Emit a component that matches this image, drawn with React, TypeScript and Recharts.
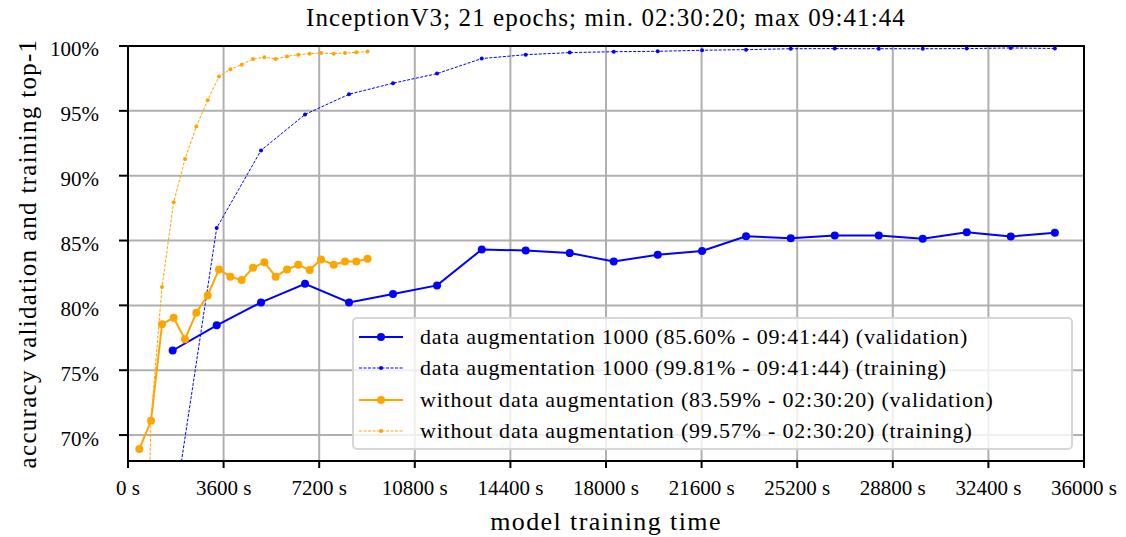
import React from 'react';
import { LineChart, Line, XAxis, YAxis, CartesianGrid, Legend, ReferenceArea } from 'recharts';

// epoch end times (s) and accuracies (%)
const timeAug = [1683, 3340, 5009, 6666, 8323, 9980, 11637, 13320, 14977, 16634, 18291, 19948, 21617, 23274, 24957, 26614, 28271, 29928, 31585, 33242, 34904];
const valAug = [76.52, 78.46, 80.23, 81.67, 80.23, 80.87, 81.54, 84.31, 84.23, 84.03, 83.38, 83.9, 84.2, 85.33, 85.18, 85.38, 85.38, 85.13, 85.64, 85.31, 85.6];
const trainAug = [63.5, 85.97, 91.95, 94.72, 96.28, 97.13, 97.87, 99.03, 99.33, 99.49, 99.56, 99.59, 99.67, 99.72, 99.79, 99.8, 99.79, 99.79, 99.8, 99.85, 99.81];

const timeNoAug = [426, 866, 1280, 1720, 2147, 2573, 3000, 3427, 3853, 4281, 4708, 5134, 5561, 5988, 6414, 6842, 7268, 7747, 8172, 8598, 9020];
const valNoAug = [68.92, 71.1, 78.54, 79.05, 77.38, 79.44, 80.77, 82.77, 82.21, 81.95, 82.9, 83.33, 82.21, 82.77, 83.13, 82.72, 83.54, 83.13, 83.38, 83.38, 83.59];
const trainNoAug = [33.4, 71.2, 81.41, 87.95, 91.28, 93.79, 95.82, 97.64, 98.21, 98.56, 99.0, 99.13, 99.0, 99.2, 99.33, 99.41, 99.46, 99.41, 99.46, 99.51, 99.57];

const xTicks = [0, 3600, 7200, 10800, 14400, 18000, 21600, 25200, 28800, 32400, 36000];
const yTicks = [70, 75, 80, 85, 90, 95, 100];

const seriesNames = [
  'data augmentation 1000 (85.60% - 09:41:44) (validation)',
  'data augmentation 1000 (99.81% - 09:41:44) (training)',
  'without data augmentation (83.59% - 02:30:20) (validation)',
  'without data augmentation (99.57% - 02:30:20) (training)',
];

const BLUE = '#0000ff';
const ORANGE = '#ffa500';
const FONT = '"Liberation Serif", "DejaVu Serif", serif';

const toRows = (t: number[], v: number[]) => t.map((x, i) => ({ t: x, acc: v[i] }));

const series = [
  { name: seriesNames[0], data: toRows(timeAug, valAug), color: BLUE, training: false },
  { name: seriesNames[1], data: toRows(timeAug, trainAug), color: BLUE, training: true },
  { name: seriesNames[2], data: toRows(timeNoAug, valNoAug), color: ORANGE, training: false },
  { name: seriesNames[3], data: toRows(timeNoAug, trainNoAug), color: ORANGE, training: true },
];

const YTitle = (props: any) => {
  const vb = props.viewBox || { y: 46, height: 415 };
  const cx = 27;
  const cy = vb.y + vb.height / 2;
  return (
    <text x={cx} y={cy} transform={`rotate(-90 ${cx} ${cy})`} textAnchor="middle" dominantBaseline="central" fontSize={25} letterSpacing={1.3} fill="#000">
      accuracy validation and training top-1
    </text>
  );
};

const XTitle = (props: any) => {
  const vb = props.viewBox || { x: 128, width: 956 };
  return (
    <text x={vb.x + vb.width / 2} y={521} textAnchor="middle" dominantBaseline="central" fontSize={26} letterSpacing={1.4} fill="#000">
      model training time
    </text>
  );
};

const LegendBox = () => (
  <div
    style={{
      width: 717,
      height: 129,
      border: '2px solid #d6d6d6',
      borderRadius: 5,
      background: 'rgba(255,255,255,0.8)',
      fontFamily: FONT,
      fontSize: 22,
      letterSpacing: 0.8,
      boxSizing: 'content-box',
    }}
  >
    {series.map((s, i) => (
      <div key={s.name} style={{ position: 'relative', height: 31.5, marginTop: i === 0 ? 2 : 0, display: 'flex', alignItems: 'center' }}>
        <svg width={60} height={20} style={{ flex: 'none' }}>
          <line x1={5} x2={49} y1={10} y2={10} stroke={s.color} strokeWidth={s.training ? 1 : 2} strokeDasharray={s.training ? '3 1.5' : undefined} />
          <circle cx={27} cy={10} r={s.training ? 2 : 4} fill={s.color} />
        </svg>
        <span style={{ marginLeft: 6, color: '#000', whiteSpace: 'nowrap' }}>{s.name}</span>
      </div>
    ))}
  </div>
);

export default function App() {
  return (
    <div style={{ position: 'absolute', left: 0, top: 0, width: 1126, height: 537, background: '#fff', fontFamily: FONT }}>
      <div style={{ position: 'absolute', left: 128, top: 4, width: 956, textAlign: 'center', fontSize: 25, letterSpacing: 1.1, lineHeight: '28px', color: '#000', whiteSpace: 'nowrap' }}>
        InceptionV3; 21 epochs; min. 02:30:20; max 09:41:44
      </div>
      <LineChart width={1126} height={537} margin={{ top: 46, right: 42, left: 0, bottom: 16 }}>
        <CartesianGrid stroke="#b0b0b0" strokeWidth={2} />
        <XAxis
          type="number"
          dataKey="t"
          domain={[0, 36000]}
          ticks={xTicks}
          allowDataOverflow
          height={60}
          tickFormatter={(v: number) => `${v} s`}
          tick={{ fill: '#000', fontSize: 21 }}
          tickSize={7}
          tickMargin={12}
          axisLine={{ stroke: '#000', strokeWidth: 2 }}
          tickLine={{ stroke: '#000', strokeWidth: 2 }}
          label={<XTitle />}
        />
        <YAxis
          type="number"
          dataKey="acc"
          domain={[68, 100]}
          ticks={yTicks}
          allowDataOverflow
          width={128}
          tickFormatter={(v: number) => `${v}%`}
          tick={{ fill: '#000', fontSize: 21, dy: 3 }}
          tickSize={9}
          tickMargin={20}
          axisLine={{ stroke: '#000', strokeWidth: 2 }}
          tickLine={{ stroke: '#000', strokeWidth: 2 }}
          label={<YTitle />}
        />
        <ReferenceArea x1={0} x2={36000} y1={68} y2={100} fill="none" stroke="#000" strokeWidth={2} ifOverflow="visible" />
        {series.map((s) => (
          <Line
            key={s.name}
            data={s.data}
            dataKey="acc"
            name={s.name}
            type="linear"
            stroke={s.color}
            strokeWidth={s.training ? 1 : 2}
            strokeDasharray={s.training ? '3 1.5' : undefined}
            dot={{ r: s.training ? 2 : 4, fill: s.color, stroke: s.color, strokeWidth: 0 }}
            activeDot={false}
            isAnimationActive={false}
          />
        ))}
        <Legend
          layout="vertical"
          align="center"
          verticalAlign="middle"
          content={<LegendBox />}
          wrapperStyle={{ left: 352, top: 317, width: 721, height: 133 }}
        />
      </LineChart>
    </div>
  );
}
